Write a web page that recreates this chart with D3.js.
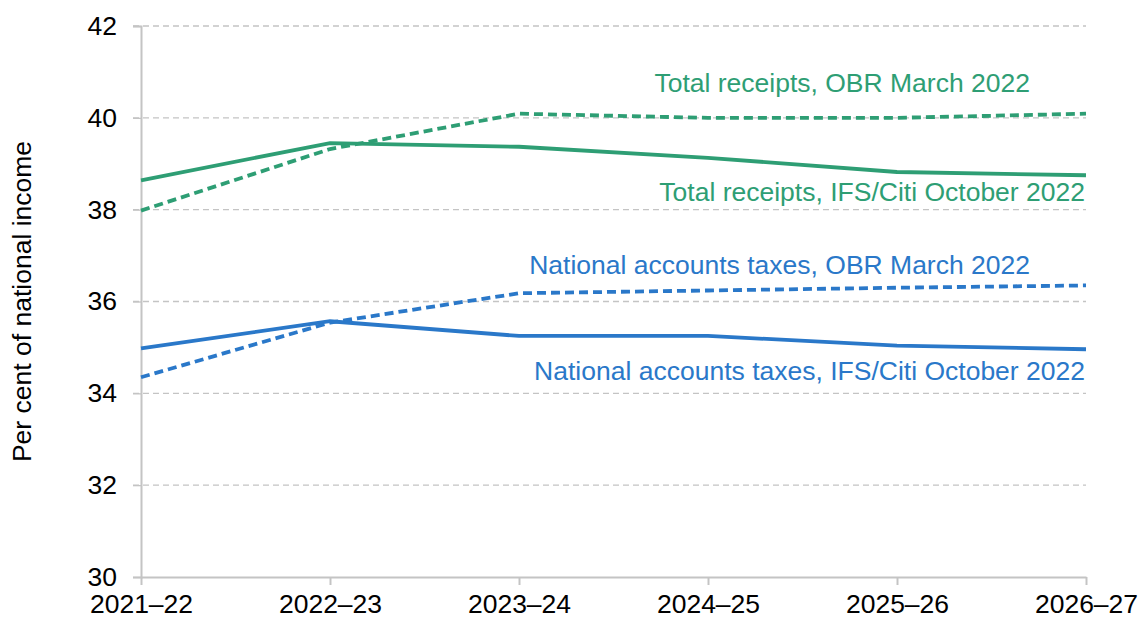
<!DOCTYPE html>
<html>
<head>
<meta charset="utf-8">
<script src="https://cdn.jsdelivr.net/npm/d3@7"></script>
<style>
  body { margin: 0; background: #fff; }
  svg text { font-family: "Liberation Sans", Arial, sans-serif; }
</style>
</head>
<body>
<div id="chart"></div>
<script>
// financial years on the x axis
var years = ["2021\u201322", "2022\u201323", "2023\u201324", "2024\u201325", "2025\u201326", "2026\u201327"];
var yTicks = [30, 32, 34, 36, 38, 40, 42];

// per cent of national income
var receiptsIFS = [38.64, 39.45, 39.37, 39.13, 38.82, 38.75];
var receiptsOBR = [37.98, 39.32, 40.09, 40.0, 40.0, 40.09];
var taxesIFS = [34.98, 35.57, 35.25, 35.25, 35.04, 34.96];
var taxesOBR = [34.35, 35.54, 36.18, 36.24, 36.3, 36.35];

var green = "#2e9e74", blue = "#2a78c9";
var fontSize = 26.5;

var series = [
    { values: receiptsIFS, color: green, dash: null },
    { values: receiptsOBR, color: green, dash: "9,5" },
    { values: taxesIFS, color: blue, dash: null },
    { values: taxesOBR, color: blue, dash: "9,5" }
];

var labels = [
    { text: "Total receipts, OBR March 2022", color: green, x: 1030, y: 83 },
    { text: "Total receipts, IFS/Citi October 2022", color: green, x: 1085, y: 192 },
    { text: "National accounts taxes, OBR March 2022", color: blue, x: 1030, y: 265 },
    { text: "National accounts taxes, IFS/Citi October 2022", color: blue, x: 1085, y: 371 }
];

var width = 1140, height = 621;
var margin = { left: 141, right: 54, top: 26, bottom: 44 };

var svg = d3.select("#chart").append("svg")
    .attr("width", width).attr("height", height);

var x = d3.scalePoint().domain(years).range([margin.left, width - margin.right]);
var y = d3.scaleLinear().domain([30, 42]).range([height - margin.bottom, margin.top]);

// gridlines
svg.append("g").selectAll("line")
    .data(yTicks.filter(function(t) { return t > 30; }))
    .enter().append("line")
    .attr("x1", margin.left - 8).attr("x2", width - margin.right)
    .attr("y1", function(d) { return y(d); }).attr("y2", function(d) { return y(d); })
    .attr("stroke", "#c4c4c4").attr("stroke-width", 1.3)
    .attr("stroke-dasharray", "6,4");

// y axis
var yAxis = svg.append("g")
    .attr("transform", "translate(" + margin.left + ",0)")
    .call(d3.axisLeft(y).tickValues(yTicks).tickSize(8).tickPadding(16));
yAxis.attr("font-size", fontSize);
yAxis.select(".domain").attr("stroke", "#c4c4c4").attr("stroke-width", 2);
yAxis.selectAll(".tick line").attr("stroke", "#c4c4c4").attr("stroke-width", 1.3);
yAxis.selectAll(".tick text").attr("fill", "#000");

// x axis
var xAxis = svg.append("g")
    .attr("transform", "translate(0," + (height - margin.bottom) + ")")
    .call(d3.axisBottom(x).tickSize(8).tickSizeOuter(0).tickPadding(9));
xAxis.attr("font-size", fontSize);
xAxis.select(".domain").attr("stroke", "#c4c4c4").attr("stroke-width", 2);
xAxis.selectAll(".tick line").attr("stroke", "#c4c4c4").attr("stroke-width", 2);
xAxis.selectAll(".tick text").attr("fill", "#000");

// y axis title
svg.append("text")
    .attr("transform", "translate(22," + ((margin.top + height - margin.bottom) / 2) + ") rotate(-90)")
    .attr("text-anchor", "middle")
    .attr("dy", "0.35em")
    .attr("font-size", fontSize)
    .text("Per cent of national income");

var line = d3.line()
    .x(function(d, i) { return x(years[i]); })
    .y(function(d) { return y(d); });

svg.append("g").selectAll("path")
    .data(series)
    .enter().append("path")
    .attr("d", function(s) { return line(s.values); })
    .attr("fill", "none")
    .attr("stroke", function(s) { return s.color; })
    .attr("stroke-width", 3.8)
    .attr("stroke-dasharray", function(s) { return s.dash; });

svg.append("g").selectAll("text")
    .data(labels)
    .enter().append("text")
    .attr("x", function(d) { return d.x; })
    .attr("y", function(d) { return d.y; })
    .attr("dy", "0.35em")
    .attr("text-anchor", "end")
    .attr("font-size", fontSize)
    .attr("fill", function(d) { return d.color; })
    .text(function(d) { return d.text; });
</script>
</body>
</html>
